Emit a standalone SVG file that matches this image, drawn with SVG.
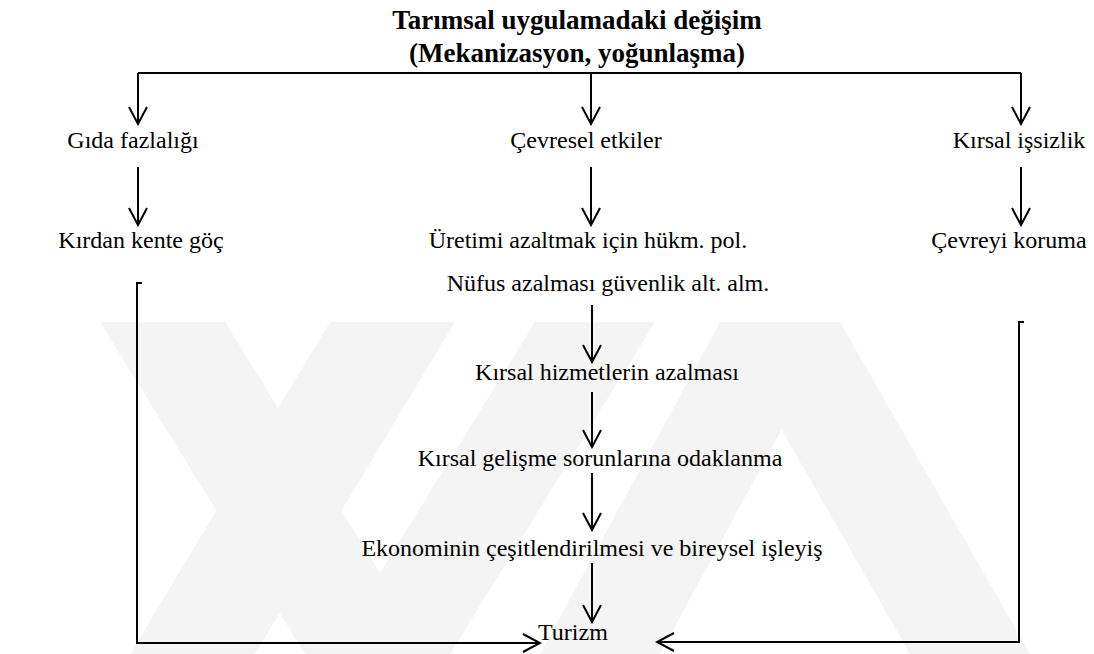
<svg xmlns="http://www.w3.org/2000/svg" width="1094" height="654" viewBox="0 0 1094 654">
  <style>
    .t { font-family: "Liberation Serif", "Times New Roman", serif; font-size: 24px; fill: #000; }
    .title { font-family: "Liberation Serif", "Times New Roman", serif; font-size: 27px; font-weight: bold; fill: #000; text-anchor: middle; }
    .c { text-anchor: middle; }
    .ln { fill: none; stroke: #000; stroke-width: 2; }
    .wm { fill: #f4f4f4; stroke: none; }
  </style>
  <defs>
    <marker id="arr" viewBox="0 0 20 20" refX="18" refY="10" markerWidth="20" markerHeight="20" orient="auto" markerUnits="userSpaceOnUse">
      <path d="M1,1 L18,10 L1,19" fill="none" stroke="#000" stroke-width="2"/>
    </marker>
  </defs>
  <rect width="1094" height="654" fill="#fff"/>
  <g id="watermark">
    <polygon class="wm" points="100,322 225,322 430,654 305,654"/>
    <polygon class="wm" points="130,654 255,654 455,322 330,322"/>
    <polygon class="wm" points="330,654 450,654 655,322 535,322"/>
    <polygon class="wm" points="540,654 660,654 840,322 720,322"/>
    <polygon class="wm" points="720,322 840,322 1030,654 910,654"/>
  </g>
  <g id="title">
    <text class="title" x="577" y="29">Tarımsal uygulamadaki değişim</text>
    <text class="title" x="577" y="62">(Mekanizasyon, yoğunlaşma)</text>
  </g>
  <g id="connectors">
    <path class="ln" d="M138,73 H1021"/>
    <path class="ln" d="M138,73 V124" marker-end="url(#arr)"/>
    <path class="ln" d="M591,73 V124" marker-end="url(#arr)"/>
    <path class="ln" d="M1021,73 V124" marker-end="url(#arr)"/>
    <path class="ln" d="M138,167 V225" marker-end="url(#arr)"/>
    <path class="ln" d="M591,167 V225" marker-end="url(#arr)"/>
    <path class="ln" d="M1021,167 V225" marker-end="url(#arr)"/>
    <path class="ln" d="M142,283 H137 V643 H540" marker-end="url(#arr)"/>
    <path class="ln" d="M1024,322 H1019 V642 H657" marker-end="url(#arr)"/>
    <path class="ln" d="M592,305 V362" marker-end="url(#arr)"/>
    <path class="ln" d="M592,392 V447" marker-end="url(#arr)"/>
    <path class="ln" d="M592,473 V530" marker-end="url(#arr)"/>
    <path class="ln" d="M592,563 V622" marker-end="url(#arr)"/>
  </g>
  <g id="n-gida"><text class="t c" x="133" y="148">Gıda fazlalığı</text></g>
  <g id="n-cevresel"><text class="t c" x="586" y="148">Çevresel etkiler</text></g>
  <g id="n-issizlik"><text class="t c" x="1019" y="148">Kırsal işsizlik</text></g>
  <g id="n-goc"><text class="t c" x="141" y="248">Kırdan kente göç</text></g>
  <g id="n-uretim"><text class="t c" x="588" y="248">Üretimi azaltmak için hükm. pol.</text></g>
  <g id="n-koruma"><text class="t c" x="1009" y="248">Çevreyi koruma</text></g>
  <g id="n-nufus"><text class="t c" x="608" y="291">Nüfus azalması güvenlik alt. alm.</text></g>
  <g id="n-hizmet"><text class="t c" x="607" y="380">Kırsal hizmetlerin azalması</text></g>
  <g id="n-gelisme"><text class="t c" x="600" y="466">Kırsal gelişme sorunlarına odaklanma</text></g>
  <g id="n-ekonomi"><text class="t c" x="592" y="556">Ekonominin çeşitlendirilmesi ve bireysel işleyiş</text></g>
  <g id="n-turizm"><text class="t" x="538" y="640">Turizm</text></g>
</svg>
